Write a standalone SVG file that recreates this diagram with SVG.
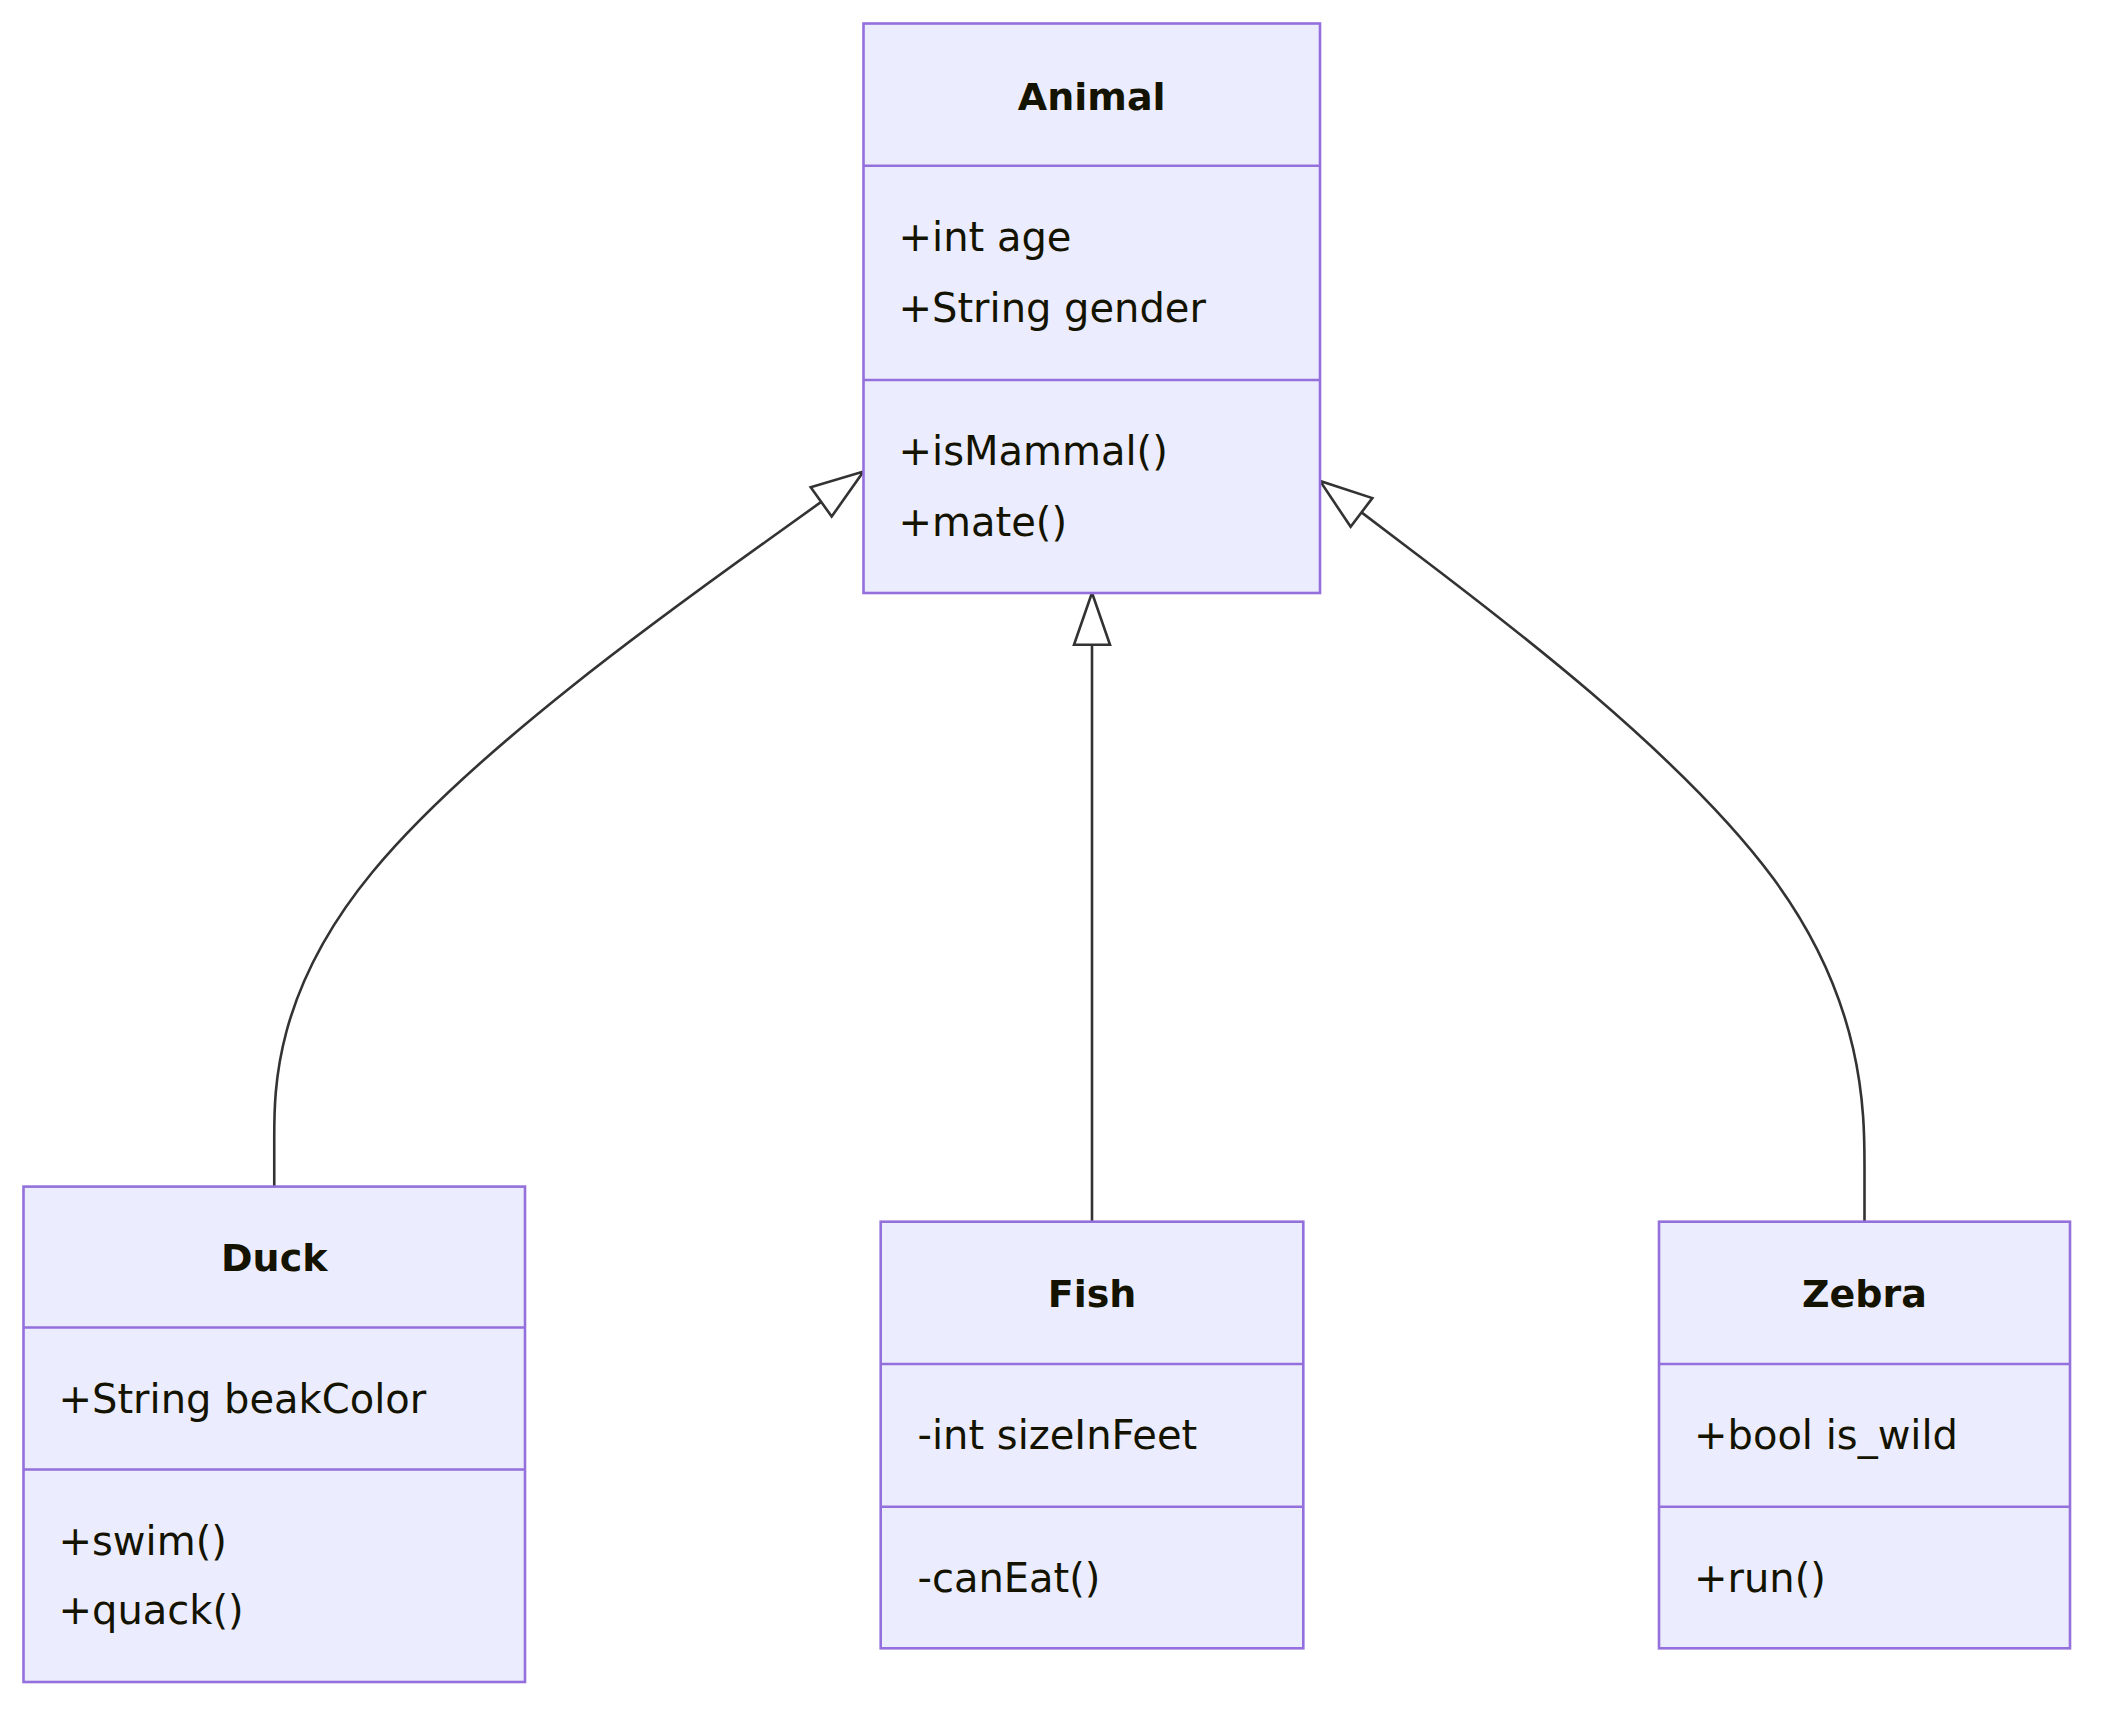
<svg xmlns="http://www.w3.org/2000/svg" width="2118" height="1728" viewBox="0 0 2118 1728">
<defs>
<style>
.box{fill:#ECECFF;stroke:#9370DB;stroke-width:2.6}
.div{stroke:#9370DB;stroke-width:2.6}
.title{font-family:"DejaVu Sans",sans-serif;font-weight:bold;font-size:38px;fill:#131300;text-anchor:middle}
.mem{font-family:"DejaVu Sans",sans-serif;font-size:40px;fill:#131300}
.edge{fill:none;stroke:#333333;stroke-width:2.6;marker-start:url(#ext)}
</style>
<marker id="ext" markerUnits="userSpaceOnUse" viewBox="-2 -2 56 40" markerWidth="56" markerHeight="40" refX="0" refY="18" orient="auto-start-reverse">
<path d="M0,0 L52,18 L0,36 Z" fill="#ffffff" stroke="#333333" stroke-width="2.6" stroke-linejoin="miter"/>
</marker>
</defs>
<rect width="2118" height="1728" fill="#ffffff"/>
<g id="connectors">
<path class="edge" d="M821.2,501.9 L765.3,542 C667.1,612.3 470.7,752.9 372.5,872 C274.25,991.2 274.25,1088.9 274.25,1137.75 L274.25,1186.6"/>
<path class="edge" d="M1092,644.7 L1092,1221.7"/>
<path class="edge" d="M1361.5,512.4 L1410.75,549.67 C1501.5,618.3 1683,755.67 1773.75,879.1 C1864.5,1002.6 1864.5,1112.1 1864.5,1166.9 L1864.5,1221.7"/>
</g>
<g id="Animal">
<rect class="box" x="863.5" y="23.5" width="456.5" height="569.5"/>
<line class="div" x1="863.5" y1="165.7" x2="1320" y2="165.7"/>
<line class="div" x1="863.5" y1="380" x2="1320" y2="380"/>
<text class="title" x="1091.75" y="109.8">Animal</text>
<text class="mem" x="898.5" y="250.7">+int age</text>
<text class="mem" x="898.5" y="321.5">+String gender</text>
<text class="mem" x="898.5" y="465">+isMammal()</text>
<text class="mem" x="898.5" y="535.8">+mate()</text>
</g>
<g id="Duck">
<rect class="box" x="23.5" y="1186.6" width="501.5" height="495.4"/>
<line class="div" x1="23.5" y1="1327.5" x2="525" y2="1327.5"/>
<line class="div" x1="23.5" y1="1469.5" x2="525" y2="1469.5"/>
<text class="title" x="274.25" y="1270.5">Duck</text>
<text class="mem" x="58.5" y="1413">+String beakColor</text>
<text class="mem" x="58.5" y="1554.7">+swim()</text>
<text class="mem" x="58.5" y="1624.4">+quack()</text>
</g>
<g id="Fish">
<rect class="box" x="880.7" y="1221.7" width="422.6" height="426.6"/>
<line class="div" x1="880.7" y1="1364" x2="1303.3" y2="1364"/>
<line class="div" x1="880.7" y1="1506.7" x2="1303.3" y2="1506.7"/>
<text class="title" x="1092" y="1307.3">Fish</text>
<text class="mem" x="917.5" y="1449.3">-int sizeInFeet</text>
<text class="mem" x="917.5" y="1591.7">-canEat()</text>
</g>
<g id="Zebra">
<rect class="box" x="1659" y="1221.7" width="411" height="426.6"/>
<line class="div" x1="1659" y1="1364" x2="2070" y2="1364"/>
<line class="div" x1="1659" y1="1506.7" x2="2070" y2="1506.7"/>
<text class="title" x="1864.5" y="1307.3">Zebra</text>
<text class="mem" x="1694" y="1449.3">+bool is_wild</text>
<text class="mem" x="1694" y="1591.7">+run()</text>
</g>
</svg>
